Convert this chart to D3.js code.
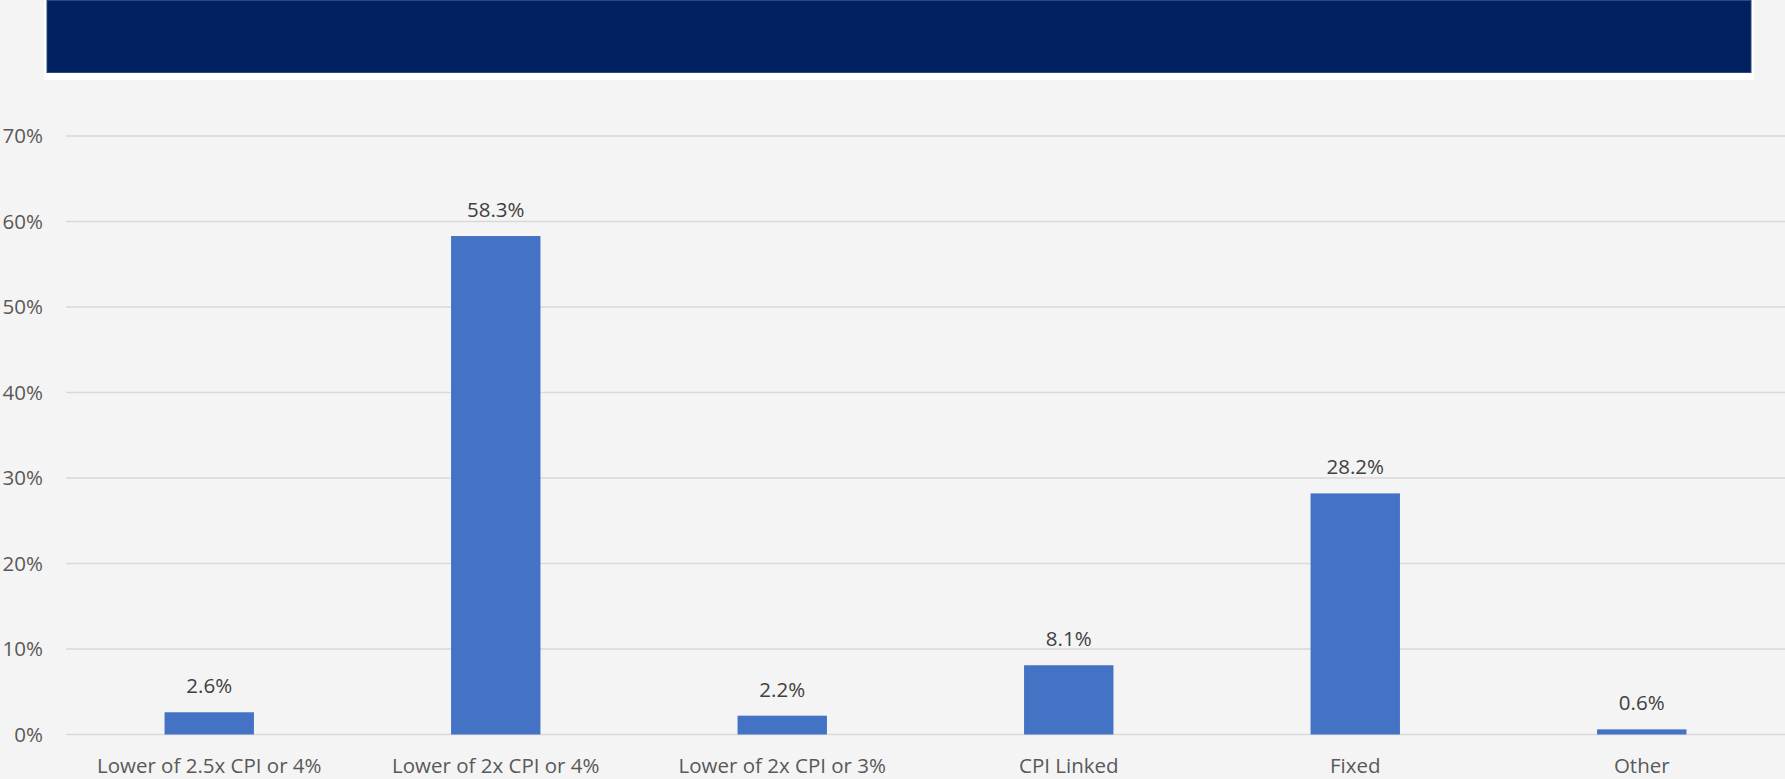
<!DOCTYPE html>
<html>
<head>
<meta charset="utf-8">
<script src="https://cdn.jsdelivr.net/npm/d3@7"></script>
<style>
  html, body { margin: 0; padding: 0; background: #f4f4f4; }
  svg { display: block; }
  text { font-family: "Open Sans", sans-serif; }
</style>
</head>
<body>
<svg id="chart" width="1785" height="779"></svg>
<script>
const categories = ["Lower of 2.5x CPI or 4%", "Lower of 2x CPI or 4%", "Lower of 2x CPI or 3%", "CPI Linked", "Fixed", "Other"];
const values = [2.6, 58.3, 2.2, 8.1, 28.2, 0.6];
const yTicks = [0, 10, 20, 30, 40, 50, 60, 70];

const W = 1785, H = 779;
const margin = { left: 66, right: 0, top: 136, bottom: 779 - 734.5 };
const svg = d3.select("#chart");

svg.append("rect").attr("x", 0).attr("y", 0).attr("width", W).attr("height", H).attr("fill", "#f4f4f4");

// Banner
svg.append("rect").attr("x", 44).attr("y", 0).attr("width", 1710).attr("height", 80).attr("fill", "#ffffff");
svg.append("rect").attr("x", 47).attr("y", 0.5).attr("width", 1704).attr("height", 72)
  .attr("fill", "#002060").attr("stroke", "#2c4a80").attr("stroke-width", 1);

const x = d3.scaleBand().domain(categories).range([margin.left, W - margin.right]).paddingInner(0.688).paddingOuter(0.344);
const y = d3.scaleLinear().domain([0, 70]).range([H - margin.bottom, margin.top]);

// gridlines
svg.append("g").selectAll("line").data(yTicks).join("line")
  .attr("x1", margin.left).attr("x2", W)
  .attr("y1", d => y(d)).attr("y2", d => y(d))
  .attr("stroke", "#d9d9d9").attr("stroke-width", 1.5);

// y axis labels
const yAxis = d3.axisLeft(y).tickValues(yTicks).tickFormat(d => d + "%").tickSize(0).tickPadding(0);
const ya = svg.append("g").attr("transform", `translate(43,0)`).call(yAxis);
ya.select(".domain").remove();
ya.selectAll("text").attr("font-size", "20.5px").attr("fill", "#595959").attr("font-family", "Open Sans, sans-serif");

// bars
svg.append("g").selectAll("rect").data(values).join("rect")
  .attr("x", (d, i) => x(categories[i]))
  .attr("width", x.bandwidth())
  .attr("y", d => y(d))
  .attr("height", d => y(0) - y(d))
  .attr("fill", "#4472c4");

// data labels
svg.append("g").selectAll("text").data(values).join("text")
  .attr("x", (d, i) => x(categories[i]) + x.bandwidth() / 2)
  .attr("y", d => y(d) - 19)
  .attr("text-anchor", "middle")
  .attr("font-size", "20.5px")
  .attr("fill", "#404040")
  .text(d => d.toFixed(1) + "%");

// x axis labels
const xAxis = d3.axisBottom(x).tickSize(0).tickPadding(0);
const xa = svg.append("g").attr("transform", `translate(0,${y(0)})`).call(xAxis);
xa.select(".domain").remove();
xa.selectAll("text").attr("font-size", "20.5px").attr("fill", "#595959")
  .attr("font-family", "Open Sans, sans-serif").attr("dy", null).attr("y", 38);
</script>
</body>
</html>
